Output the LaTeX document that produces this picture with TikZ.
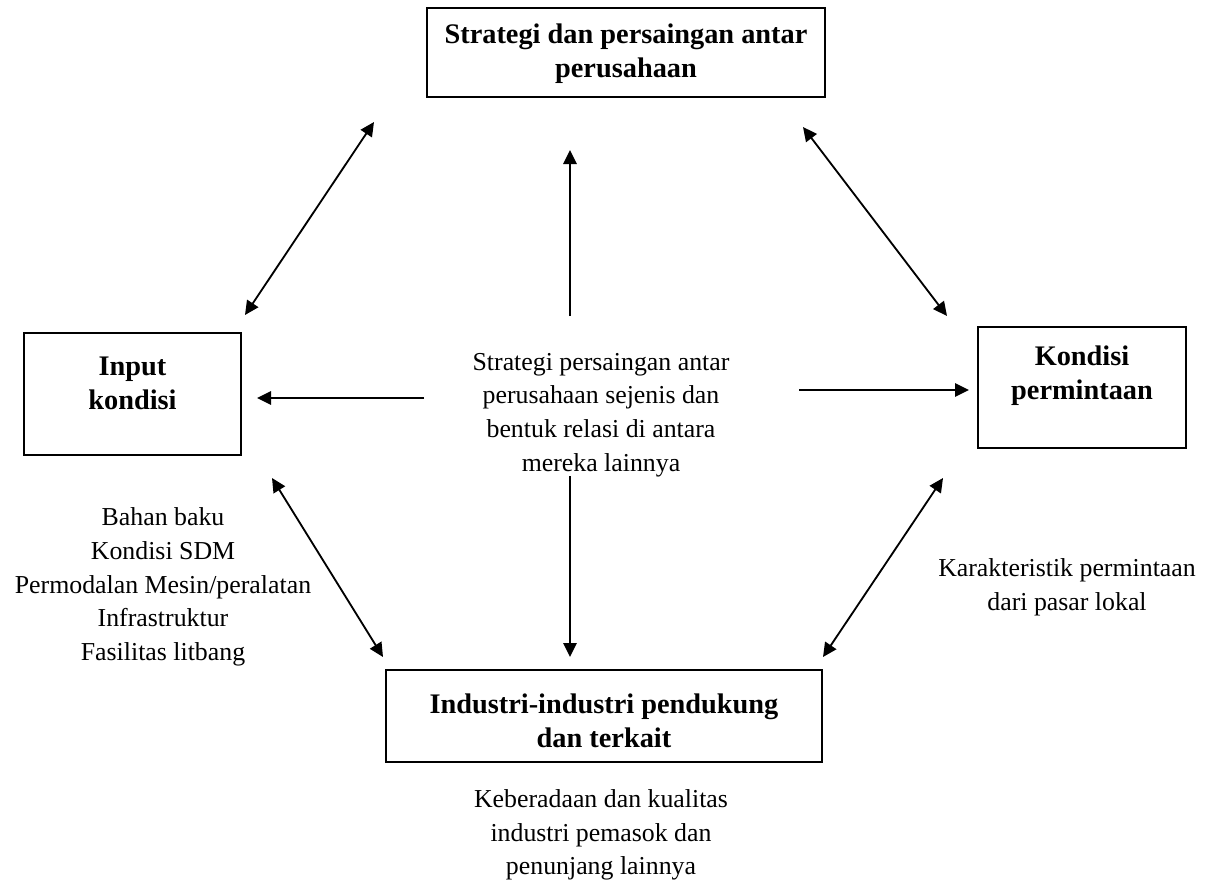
\documentclass[tikz,border=0pt]{standalone}
\usepackage{fontspec}
\setmainfont{Liberation Serif}
\usetikzlibrary{arrows.meta}
\begin{document}
\begin{tikzpicture}[x=0.6pt,y=-0.6pt,
  box/.style={draw,line width=1.2pt,inner sep=0pt},
  ttl/.style={font=\fontsize{17}{20.4}\selectfont\bfseries,align=center,inner sep=0pt},
  txt/.style={font=\fontsize{15.5}{20.2}\selectfont,align=center,inner sep=0pt},
  arr/.style={line width=1.1pt,-{Triangle[length=8.4pt,width=8pt]}},
  darr/.style={line width=1.1pt,{Triangle[length=8.4pt,width=8pt]}-{Triangle[length=8.4pt,width=8pt]}}]
\useasboundingbox (0,0) rectangle (1206,881);
% boxes
\node[box,minimum width=398*0.6pt,minimum height=89*0.6pt] (top) at (626,52.5) {};
\node[ttl] (toptxt) at (626,54) {Strategi dan persaingan antar\\perusahaan};
\node[box,minimum width=217*0.6pt,minimum height=122*0.6pt] (inp) at (132.5,394) {};
\node[ttl] (inptxt) at (132.5,383) {Input\\kondisi};
\node[box,minimum width=208*0.6pt,minimum height=121*0.6pt] (kon) at (1082,387.5) {};
\node[ttl] (kontxt) at (1082,375.5) {Kondisi\\permintaan};
\node[box,minimum width=436*0.6pt,minimum height=92*0.6pt] (ind) at (604,716) {};
\node[ttl] (indtxt) at (604,721) {Industri-industri pendukung\\dan terkait};
% texts
\node[txt] (ctr) at (601,415) {Strategi persaingan antar\\perusahaan sejenis dan\\bentuk relasi di antara\\mereka lainnya};
\node[txt] (lft) at (163,587) {Bahan baku\\Kondisi SDM\\Permodalan Mesin/peralatan\\Infrastruktur\\Fasilitas litbang};
\node[txt] (rgt) at (1067,587) {Karakteristik permintaan\\dari pasar lokal};
\node[txt] (bot) at (601,835) {Keberadaan dan kualitas\\industri pemasok dan\\penunjang lainnya};
% coordinates
\coordinate (a1) at (374,122); \coordinate (a2) at (245,315);
\coordinate (b1) at (803,127); \coordinate (b2) at (947,316);
\coordinate (c1) at (570,316); \coordinate (c2) at (570,150);
\coordinate (d1) at (570,476); \coordinate (d2) at (570,657);
\coordinate (e1) at (424,398); \coordinate (e2) at (257,398);
\coordinate (f1) at (799,390); \coordinate (f2) at (969,390);
\coordinate (g1) at (272,478); \coordinate (g2) at (383,657);
\coordinate (h1) at (943,478); \coordinate (h2) at (823,657);
% arrows
\draw[darr] (a1) -- (a2);
\draw[darr] (b1) -- (b2);
\draw[arr] (c1) -- (c2);
\draw[arr] (d1) -- (d2);
\draw[arr] (e1) -- (e2);
\draw[arr] (f1) -- (f2);
\draw[darr] (g1) -- (g2);
\draw[darr] (h1) -- (h2);
\end{tikzpicture}
\end{document}
